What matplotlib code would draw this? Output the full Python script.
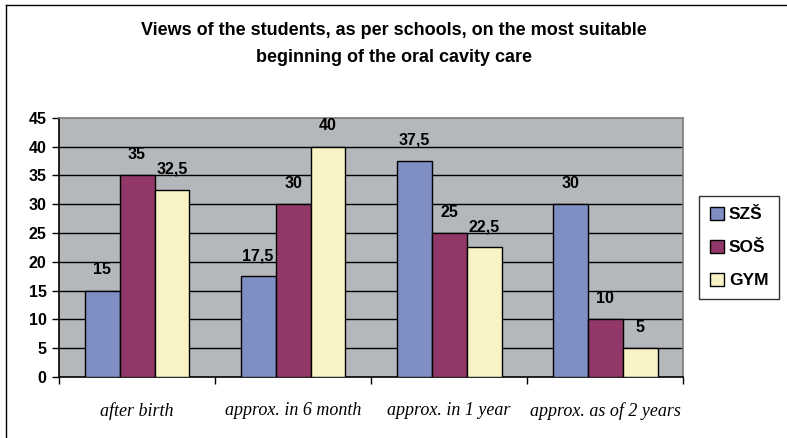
import numpy as np
import matplotlib
matplotlib.use("Agg")
import matplotlib.pyplot as plt
from matplotlib.lines import Line2D

# данные
categories = ["after birth", "approx. in 6 month", "approx. in 1 year", "approx. as of 2 years"]
szs = [15, 17.5, 37.5, 30]
sos = [35, 30, 25, 10]
gym = [32.5, 40, 22.5, 5]
series_names = ["SZŠ", "SOŠ", "GYM"]
y_ticks = [0, 5, 10, 15, 20, 25, 30, 35, 40, 45]

colors = ["#7F8EC3", "#923868", "#F8F2C4"]
title = "Views of the students, as per schools, on the most suitable\nbeginning of the oral cavity care"

fig = plt.figure(figsize=(7.87, 4.38), dpi=100)
fig.patch.set_facecolor("white")
ax = fig.add_axes([0.075, 0.139, 0.793, 0.592])
ax.set_facecolor("#B4B8BB")

x = np.arange(len(categories))
w = 0.224
for i, (vals, col) in enumerate(zip([szs, sos, gym], colors)):
    ax.bar(x + (i - 1) * w, vals, width=w, color=col, edgecolor="black",
           linewidth=1.0, label=series_names[i], zorder=3)
    for xi, v in zip(x + (i - 1) * w, vals):
        lbl = f"{v:g}".replace(".", ",")
        ax.text(xi, v + 2.3, lbl, ha="center", va="bottom", fontsize=11.5,
                fontweight="bold", family="Liberation Sans", zorder=4)

ax.set_xlim(-0.5, len(categories) - 0.5)
ax.set_ylim(0, 45)
ax.set_yticks(y_ticks)
ax.set_yticklabels([str(t) for t in y_ticks], fontsize=11.5, fontweight="bold",
                   family="Liberation Sans")
for t in y_ticks[1:-1]:
    ax.axhline(t, color="black", linewidth=1.0, zorder=1)

# подписи категорий — курсивом, по центру, засечки между группами
ax.set_xticks(np.arange(len(categories) + 1) - 0.5)
ax.set_xticklabels([])
ax.set_xticks(x, minor=True)
ax.set_xticklabels(categories, minor=True, fontsize=13, style="italic",
                   family="Liberation Serif")
ax.tick_params(axis="x", which="minor", length=0, pad=18)
ax.tick_params(axis="x", which="major", length=5, width=1, direction="out")
ax.tick_params(axis="y", length=5, width=1, direction="out", pad=4)

ax.spines["left"].set_color("black")
ax.spines["bottom"].set_color("black")
ax.spines["top"].set_color("#7A7A7A")
ax.spines["right"].set_color("#7A7A7A")
for s in ax.spines.values():
    s.set_linewidth(1.2)

leg = ax.legend(loc="center left", bbox_to_anchor=(1.012, 0.5), frameon=True,
                fancybox=False, edgecolor="black",
                prop={"family": "Liberation Sans", "weight": "bold", "size": 12.5},
                handlelength=0.8, handleheight=0.8, handletextpad=0.3,
                labelspacing=1.0, borderpad=0.6)
leg.get_frame().set_linewidth(1.0)
leg.set_clip_on(False)

fig.text(0.5, 0.90, title, ha="center", va="center", fontsize=13,
         fontweight="bold", family="Liberation Sans", linespacing=1.75)

# рамка диаграммы: видны только верх и левый край
fig.add_artist(Line2D([0.007, 0.007], [0.0, 0.988], transform=fig.transFigure,
                      color="black", linewidth=1.0))
fig.add_artist(Line2D([0.007, 1.0], [0.988, 0.988], transform=fig.transFigure,
                      color="black", linewidth=1.0))

fig.savefig("out.png", dpi=100)
